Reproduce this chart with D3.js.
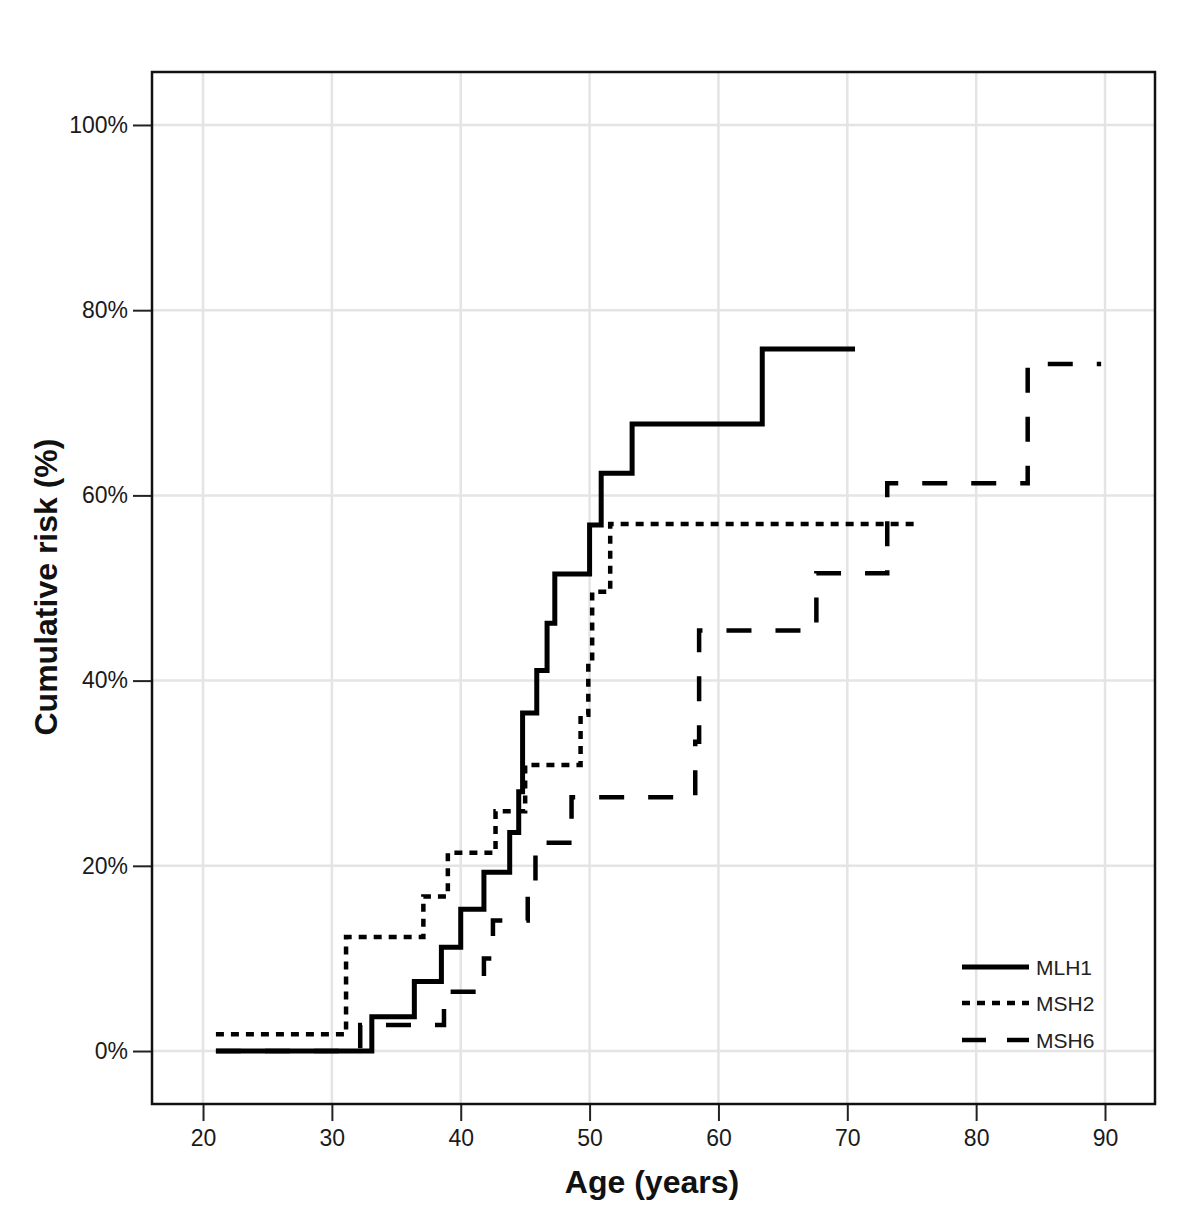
<!DOCTYPE html>
<html>
<head>
<meta charset="utf-8">
<script src="https://cdn.jsdelivr.net/npm/d3@7"></script>
<style>
  html, body { margin: 0; padding: 0; background: #fff; }
  svg { display: block; font-family: "Liberation Sans", Arial, sans-serif; }
</style>
</head>
<body>
<svg id="chart" width="1200" height="1216"></svg>
<script>
// ---- data ----
const xTicks = [20, 30, 40, 50, 60, 70, 80, 90];
const yTicks = [0, 20, 40, 60, 80, 100];
const seriesNames = ["MLH1", "MSH2", "MSH6"];

const mlh1Age  = [21.0, 33.1, 36.4, 38.5, 40.0, 41.8, 43.8, 44.5, 44.8, 45.9, 46.7, 47.3, 50.0, 50.9, 53.3, 63.4, 70.6];
const mlh1Risk = [0, 3.7, 7.5, 11.2, 15.3, 19.3, 23.6, 28.0, 36.5, 41.1, 46.2, 51.5, 56.8, 62.4, 67.7, 75.8, 75.8];

const msh2Age  = [21.0, 31.1, 37.1, 39.0, 42.7, 45.0, 49.3, 49.9, 50.2, 51.6, 75.4];
const msh2Risk = [1.8, 12.3, 16.7, 21.4, 25.9, 30.9, 36.3, 41.9, 49.6, 56.9, 56.9];

const msh6Age  = [21.0, 32.2, 38.7, 41.8, 42.5, 45.2, 45.8, 48.6, 58.2, 58.5, 67.6, 73.1, 84.0, 89.7];
const msh6Risk = [0, 2.8, 6.4, 10.0, 14.1, 18.1, 22.5, 27.4, 33.4, 45.4, 51.6, 61.3, 74.2, 74.2];

// ---- layout ----
const svg = d3.select("#chart");
const pLeft = 152, pRight = 1155, pTop = 72, pBottom = 1104;

const x = d3.scaleLinear().domain([16.04, 93.88]).range([pLeft, pRight]);
const y = d3.scaleLinear().domain([-5.72, 105.72]).range([pBottom, pTop]);

// gridlines
const grid = svg.append("g");
grid.selectAll("line.v").data(xTicks).enter().append("line")
  .attr("x1", d => x(d)).attr("x2", d => x(d))
  .attr("y1", pTop).attr("y2", pBottom)
  .attr("stroke", "#e4e4e4").attr("stroke-width", 2.5);
grid.selectAll("line.h").data(yTicks).enter().append("line")
  .attr("x1", pLeft).attr("x2", pRight)
  .attr("y1", d => y(d)).attr("y2", d => y(d))
  .attr("stroke", "#e4e4e4").attr("stroke-width", 2.5);

// axes
const xAxis = d3.axisBottom(x).tickValues(xTicks).tickSize(17).tickPadding(9);
const yAxis = d3.axisLeft(y).tickValues(yTicks).tickSize(19).tickPadding(5).tickFormat(d => d + "%");

const gx = svg.append("g").attr("transform", `translate(0,${pBottom})`).call(xAxis);
const gy = svg.append("g").attr("transform", `translate(${pLeft},0)`).call(yAxis);
[gx, gy].forEach(g => {
  g.select(".domain").remove();
  g.selectAll(".tick line").attr("stroke", "#222").attr("stroke-width", 2);
  g.selectAll(".tick text").attr("fill", "#1a1a1a").style("font-size", "23px")
    .style("font-family", "'Liberation Sans', Arial, sans-serif");
});

// series
const line = d3.line().x(d => x(d[0])).y(d => y(d[1])).curve(d3.curveStepAfter);
const series = [
  { name: "MSH6", ages: msh6Age, risks: msh6Risk, dash: "25,24", width: 4.5 },
  { name: "MSH2", ages: msh2Age, risks: msh2Risk, dash: "8,7", width: 4.5 },
  { name: "MLH1", ages: mlh1Age, risks: mlh1Risk, dash: null, width: 5 }
];
series.forEach(s => {
  const pts = s.ages.map((a, i) => [a, s.risks[i]]);
  svg.append("path").datum(pts)
    .attr("d", line)
    .attr("fill", "none")
    .attr("stroke", "#000")
    .attr("stroke-width", s.width)
    .attr("stroke-dasharray", s.dash)
    .attr("stroke-linejoin", "miter")
    .attr("stroke-linecap", "butt");
});

// frame
svg.append("rect").attr("x", pLeft).attr("y", pTop)
  .attr("width", pRight - pLeft).attr("height", pBottom - pTop)
  .attr("fill", "none").attr("stroke", "#111").attr("stroke-width", 2.5);

// legend
const legendY = [967, 1003, 1040];
const lg = svg.append("g");
seriesNames.forEach((name, i) => {
  const s = series.find(d => d.name === name);
  const yy = legendY[i];
  if (name === "MSH6") {
    lg.append("line").attr("x1", 962).attr("x2", 986).attr("y1", yy).attr("y2", yy)
      .attr("stroke", "#000").attr("stroke-width", 4.5);
    lg.append("line").attr("x1", 1007).attr("x2", 1029).attr("y1", yy).attr("y2", yy)
      .attr("stroke", "#000").attr("stroke-width", 4.5);
  } else {
    lg.append("line").attr("x1", 962).attr("x2", 1029).attr("y1", yy).attr("y2", yy)
      .attr("stroke", "#000").attr("stroke-width", s.width)
      .attr("stroke-dasharray", s.dash);
  }
  lg.append("text").attr("x", 1036).attr("y", yy + 8)
    .attr("fill", "#222").style("font-size", "21px").text(name);
});

// axis titles
svg.append("text")
  .attr("x", 652).attr("y", 1193)
  .attr("text-anchor", "middle")
  .style("font-size", "32px").style("font-weight", "bold")
  .attr("fill", "#111")
  .text("Age (years)");
svg.append("text")
  .attr("transform", "translate(57,587) rotate(-90)")
  .attr("text-anchor", "middle")
  .style("font-size", "32px").style("font-weight", "bold")
  .attr("fill", "#111")
  .text("Cumulative risk (%)");
</script>
</body>
</html>
